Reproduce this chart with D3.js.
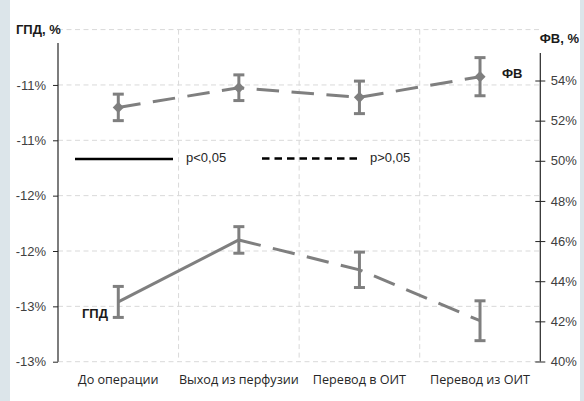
<!DOCTYPE html>
<html>
<head>
<meta charset="utf-8">
<script src="https://cdn.jsdelivr.net/npm/d3@7"></script>
<style>
  html, body { margin: 0; padding: 0; background: #ffffff; }
  svg { display: block; }
</style>
</head>
<body>
<svg id="chart" width="584" height="401"></svg>
<script>
// Stages of observation
const categories = ["До операции", "Выход из перфузии", "Перевод в ОИТ", "Перевод из ОИТ"];

// ГПД, % (left axis): mean and error
const gpdValues = [-12.46, -11.90, -12.17, -12.63];
const gpdErrors = [0.14, 0.12, 0.16, 0.18];

// ФВ, % (right axis): mean and error
const fvValues = [52.66, 53.64, 53.16, 54.19];
const fvErrors = [0.66, 0.64, 0.81, 0.95];

// Axis ticks
const leftTicks = [-13, -12.5, -12, -11.5, -11, -10.5];
const leftGrid = [-13, -12.5, -12, -11.5, -11, -10.5, -10];
const rightTicks = [40, 42, 44, 46, 48, 50, 52, 54];

const svg = d3.select("#chart");
const W = 584, H = 401;
const gray = "#7f7f7f";
const gridColor = "#d9d9d9";
const sans = "'Liberation Sans', Arial, sans-serif";

// side bands of the page
svg.append("rect").attr("x", 0).attr("y", 0).attr("width", 10).attr("height", H).attr("fill", "#dce5ea");
svg.append("rect").attr("x", 580).attr("y", 0).attr("width", 4).attr("height", H).attr("fill", "#dce5ea");

const plotL = 58, plotR = 540.3;
const x = d3.scaleBand().domain(categories).range([plotL, plotR]).padding(0);
const yL = d3.scaleLinear().domain([-13, -10]).range([361.7, 29.6]);
const yR = d3.scaleLinear().domain([40, 54]).range([361.5, 80.5]);
const cx = c => x(c) + x.bandwidth() / 2;

// grid
const grid = svg.append("g");
grid.selectAll("line.h").data(leftGrid).join("line")
  .attr("class", "h")
  .attr("x1", plotL).attr("x2", plotR)
  .attr("y1", d => yL(d)).attr("y2", d => yL(d))
  .attr("stroke", gridColor).attr("stroke-width", 1).attr("stroke-dasharray", "5,3.5");
grid.selectAll("line.v").data(categories.slice(1)).join("line")
  .attr("class", "v")
  .attr("x1", d => x(d)).attr("x2", d => x(d))
  .attr("y1", yL(-10)).attr("y2", yL(-13))
  .attr("stroke", gridColor).attr("stroke-width", 1).attr("stroke-dasharray", "5,3.5");

// left axis
const fmtL = v => "-" + Math.round(Math.abs(v)) + "%";
const gL = svg.append("g").attr("transform", `translate(${plotL},0)`)
  .call(d3.axisLeft(yL).tickValues(leftTicks).tickSize(5).tickPadding(7).tickFormat(fmtL));
gL.select(".domain").remove();
gL.selectAll(".tick line").attr("stroke", "#262626");
gL.selectAll(".tick text").attr("font-family", sans).attr("font-size", 13).attr("fill", "#404040");
gL.append("line").attr("x1", 0).attr("x2", 0).attr("y1", 43).attr("y2", yL(-13))
  .attr("stroke", "#262626").attr("stroke-width", 1.2);

// right axis
const gR = svg.append("g").attr("transform", `translate(${plotR},0)`)
  .call(d3.axisRight(yR).tickValues(rightTicks).tickSize(5).tickPadding(5.5).tickFormat(d => d + "%"));
gR.select(".domain").remove();
gR.selectAll(".tick line").attr("x1", -5).attr("stroke", "#262626");
gR.selectAll(".tick text").attr("font-family", sans).attr("font-size", 13).attr("fill", "#404040");
gR.append("line").attr("x1", 0).attr("x2", 0).attr("y1", 53).attr("y2", yR(40))
  .attr("stroke", "#262626").attr("stroke-width", 1.2);

// axis titles
svg.append("text").attr("x", 16).attr("y", 34).attr("font-family", sans).attr("font-size", 13)
  .attr("font-weight", "bold").attr("fill", "#1a1a1a").text("ГПД, %");
svg.append("text").attr("x", 579).attr("y", 43).attr("text-anchor", "end").attr("font-family", sans)
  .attr("font-size", 13).attr("font-weight", "bold").attr("fill", "#1a1a1a").text("ФВ, %");

// category labels
svg.append("g").selectAll("text").data(categories).join("text")
  .attr("x", d => cx(d)).attr("y", 384).attr("text-anchor", "middle")
  .attr("font-family", "'Open Sans', sans-serif").attr("font-size", 12.6).attr("fill", "#262626")
  .text(d => d);

// legend
const lg = svg.append("g");
lg.append("line").attr("x1", 75).attr("x2", 173).attr("y1", 159).attr("y2", 159)
  .attr("stroke", "#000").attr("stroke-width", 2.5);
lg.append("text").attr("x", 186).attr("y", 161.5).attr("font-family", sans).attr("font-size", 13)
  .attr("fill", "#262626").text("p<0,05");
lg.append("line").attr("x1", 262).attr("x2", 358.5).attr("y1", 158.5).attr("y2", 158.5)
  .attr("stroke", "#000").attr("stroke-width", 2.5).attr("stroke-dasharray", "7.5,5");
lg.append("text").attr("x", 370).attr("y", 161.5).attr("font-family", sans).attr("font-size", 13)
  .attr("fill", "#262626").text("p>0,05");

// data rows
const fv = categories.map((c, i) => ({ c, v: fvValues[i], e: fvErrors[i] }));
const gpd = categories.map((c, i) => ({ c, v: gpdValues[i], e: gpdErrors[i] }));

function errorBars(g, data, y) {
  const eb = g.append("g").attr("stroke", gray).attr("stroke-width", 3);
  eb.selectAll("line.bar").data(data).join("line").attr("class", "bar")
    .attr("x1", d => cx(d.c)).attr("x2", d => cx(d.c))
    .attr("y1", d => y(d.v + d.e)).attr("y2", d => y(d.v - d.e));
  eb.selectAll("line.top").data(data).join("line").attr("class", "top")
    .attr("x1", d => cx(d.c) - 5.5).attr("x2", d => cx(d.c) + 5.5)
    .attr("y1", d => y(d.v + d.e)).attr("y2", d => y(d.v + d.e));
  eb.selectAll("line.bot").data(data).join("line").attr("class", "bot")
    .attr("x1", d => cx(d.c) - 5.5).attr("x2", d => cx(d.c) + 5.5)
    .attr("y1", d => y(d.v - d.e)).attr("y2", d => y(d.v - d.e));
}

// ФВ series
const fvG = svg.append("g");
const lineR = d3.line().x(d => cx(d.c)).y(d => yR(d.v));
fvG.append("path").datum(fv).attr("d", lineR).attr("fill", "none")
  .attr("stroke", gray).attr("stroke-width", 3).attr("stroke-dasharray", "22.5,12.5");
errorBars(fvG, fv, yR);
fvG.selectAll("path.mk").data(fv).join("path").attr("class", "mk")
  .attr("d", d3.symbol(d3.symbolSquare, 62))
  .attr("transform", d => `translate(${cx(d.c)},${yR(d.v)}) rotate(45)`)
  .attr("fill", gray);

// ГПД series: significant change solid, the rest dashed
const gpdG = svg.append("g");
const lineL = d3.line().x(d => cx(d.c)).y(d => yL(d.v));
gpdG.append("path").datum(gpd.slice(0, 2)).attr("d", lineL).attr("fill", "none")
  .attr("stroke", gray).attr("stroke-width", 3);
gpdG.append("path").datum(gpd.slice(1)).attr("d", lineL).attr("fill", "none")
  .attr("stroke", gray).attr("stroke-width", 3).attr("stroke-dasharray", "22.5,12.5");
errorBars(gpdG, gpd, yL);

// series labels
svg.append("text").attr("x", 502).attr("y", 78).attr("font-family", sans).attr("font-size", 13)
  .attr("font-weight", "bold").attr("fill", "#1a1a1a").text("ФВ");
svg.append("text").attr("x", 82).attr("y", 318).attr("font-family", sans).attr("font-size", 13)
  .attr("font-weight", "bold").attr("fill", "#1a1a1a").text("ГПД");
</script>
</body>
</html>
